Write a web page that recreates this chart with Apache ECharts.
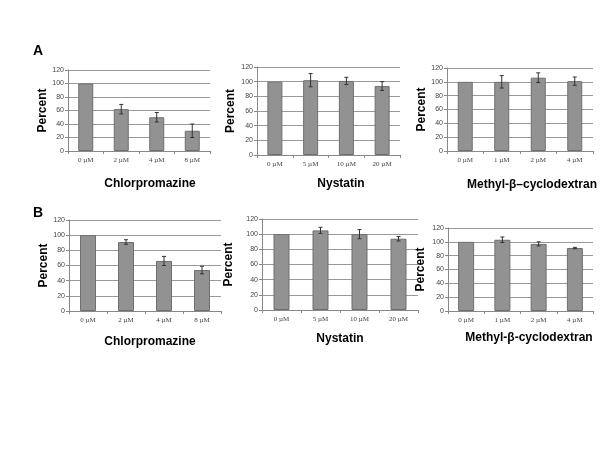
<!DOCTYPE html>
<html>
<head>
<meta charset="utf-8">
<script src="https://cdn.jsdelivr.net/npm/echarts@6/dist/echarts.min.js"></script>
<style>html,body{margin:0;padding:0;background:#fff;}#c{width:600px;height:450px;}</style>
</head>
<body>
<div id="c"></div>
<script>
// ---- data ----
const yTicks = [0, 20, 40, 60, 80, 100, 120];
const catChlor = ['0 \u00b5M', '2 \u00b5M', '4 \u00b5M', '8 \u00b5M'];
const catNys = ['0 \u00b5M', '5 \u00b5M', '10 \u00b5M', '20 \u00b5M'];
const catMbcd = ['0 \u00b5M', '1 \u00b5M', '2 \u00b5M', '4 \u00b5M'];

const aChlorVals = [100, 62, 50, 30];
const aChlorErr = [0, 7, 7, 10];
const aNysVals = [100, 102, 101, 94];
const aNysErr = [0, 9, 5, 6];
const aMbcdVals = [100, 100, 106, 101];
const aMbcdErr = [0, 9, 7, 6];

const bChlorVals = [100, 91, 66, 54];
const bChlorErr = [0, 3, 6, 5];
const bNysVals = [100, 105, 100, 94];
const bNysErr = [0, 4, 6, 3];
const bMbcdVals = [100, 103, 97, 91];
const bMbcdErr = [0, 4, 3, 1];

const titles = ['Chlorpromazine', 'Nystatin', 'Methyl-\u03b2\u2013cyclodextran',
                'Chlorpromazine', 'Nystatin', 'Methyl-\u03b2-cyclodextran'];
const panelLetters = ['A', 'B'];

// ---- layout ----
const panels = [
  {cats: catChlor, vals: aChlorVals, err: aChlorErr, left: 68, top: 70, right: 210, bottom: 151, nameGap: 18, tx: 145, ty: 181, bw: 15},
  {cats: catNys, vals: aNysVals, err: aNysErr, left: 257, top: 67, right: 400, bottom: 155, nameGap: 20, tx: 336, ty: 181, bw: 15},
  {cats: catMbcd, vals: aMbcdVals, err: aMbcdErr, left: 447, top: 68, right: 593, bottom: 151, nameGap: 19, tx: 527, ty: 182, bw: 15},
  {cats: catChlor, vals: bChlorVals, err: bChlorErr, left: 69, top: 220, right: 221, bottom: 311, nameGap: 19, tx: 145, ty: 339, bw: 16},
  {cats: catNys, vals: bNysVals, err: bNysErr, left: 262, top: 219, right: 418, bottom: 310, nameGap: 27, tx: 335, ty: 336, bw: 16},
  {cats: catMbcd, vals: bMbcdVals, err: bMbcdErr, left: 448, top: 228, right: 593, bottom: 311, nameGap: 21, tx: 524, ty: 335, bw: 16}
];

const grid = [], xAxis = [], yAxis = [], series = [], title = [];
panels.forEach((p, i) => {
  grid.push({left: p.left, top: p.top, width: p.right - p.left, height: p.bottom - p.top, containLabel: false});
  xAxis.push({
    type: 'category', gridIndex: i, data: p.cats,
    axisLine: {lineStyle: {color: '#888', width: 1}},
    axisTick: {show: true, length: 3, lineStyle: {color: '#888'}},
    axisLabel: {fontFamily: 'Liberation Serif', fontSize: 7, color: '#444', margin: 6}
  });
  yAxis.push({
    type: 'value', gridIndex: i, min: 0, max: 120, interval: 20,
    name: 'Percent', nameLocation: 'middle', nameGap: p.nameGap,
    nameTextStyle: {fontFamily: 'Liberation Sans', fontWeight: 'bold', fontSize: 12, color: '#000'},
    axisLine: {show: true, lineStyle: {color: '#888', width: 1}},
    axisTick: {show: true, length: 3, lineStyle: {color: '#888'}},
    axisLabel: {fontFamily: 'Liberation Sans', fontSize: 7, color: '#444', margin: 4},
    splitLine: {show: true, lineStyle: {color: '#999', width: 1}}
  });
  series.push({
    type: 'bar', xAxisIndex: i, yAxisIndex: i, data: p.vals, barWidth: p.bw,
    itemStyle: {color: '#929292', borderColor: '#6f6f6f', borderWidth: 1},
    silent: true, animation: false
  });
  series.push({
    type: 'custom', xAxisIndex: i, yAxisIndex: i, animation: false, silent: true,
    data: p.vals.map((v, k) => [k, v - p.err[k], v + p.err[k]]).filter((d, k) => p.err[k] > 0),
    renderItem: function (params, api) {
      const lo = api.coord([api.value(0), api.value(1)]);
      const hi = api.coord([api.value(0), api.value(2)]);
      const h = 2;
      const st = {stroke: '#333', lineWidth: 1};
      return {type: 'group', children: [
        {type: 'line', shape: {x1: lo[0], y1: lo[1], x2: hi[0], y2: hi[1]}, style: st},
        {type: 'line', shape: {x1: lo[0] - h, y1: lo[1], x2: lo[0] + h, y2: lo[1]}, style: st},
        {type: 'line', shape: {x1: hi[0] - h, y1: hi[1], x2: hi[0] + h, y2: hi[1]}, style: st}
      ]};
    },
    z: 5
  });
  title.push({
    text: titles[i], left: p.tx, top: p.ty - 8, textAlign: 'center',
    textStyle: {fontFamily: 'Liberation Sans', fontWeight: 'bold', fontSize: 12, color: '#000'}
  });
});
title.push({text: panelLetters[0], left: 28, top: 39, textStyle: {fontFamily: 'Liberation Sans', fontWeight: 'bold', fontSize: 14, color: '#000'}});
title.push({text: panelLetters[1], left: 28, top: 201, textStyle: {fontFamily: 'Liberation Sans', fontWeight: 'bold', fontSize: 14, color: '#000'}});

const chart = echarts.init(document.getElementById('c'), null, {renderer: 'canvas'});
chart.setOption({animation: false, backgroundColor: '#fff', title, grid, xAxis, yAxis, series});
</script>
</body>
</html>
